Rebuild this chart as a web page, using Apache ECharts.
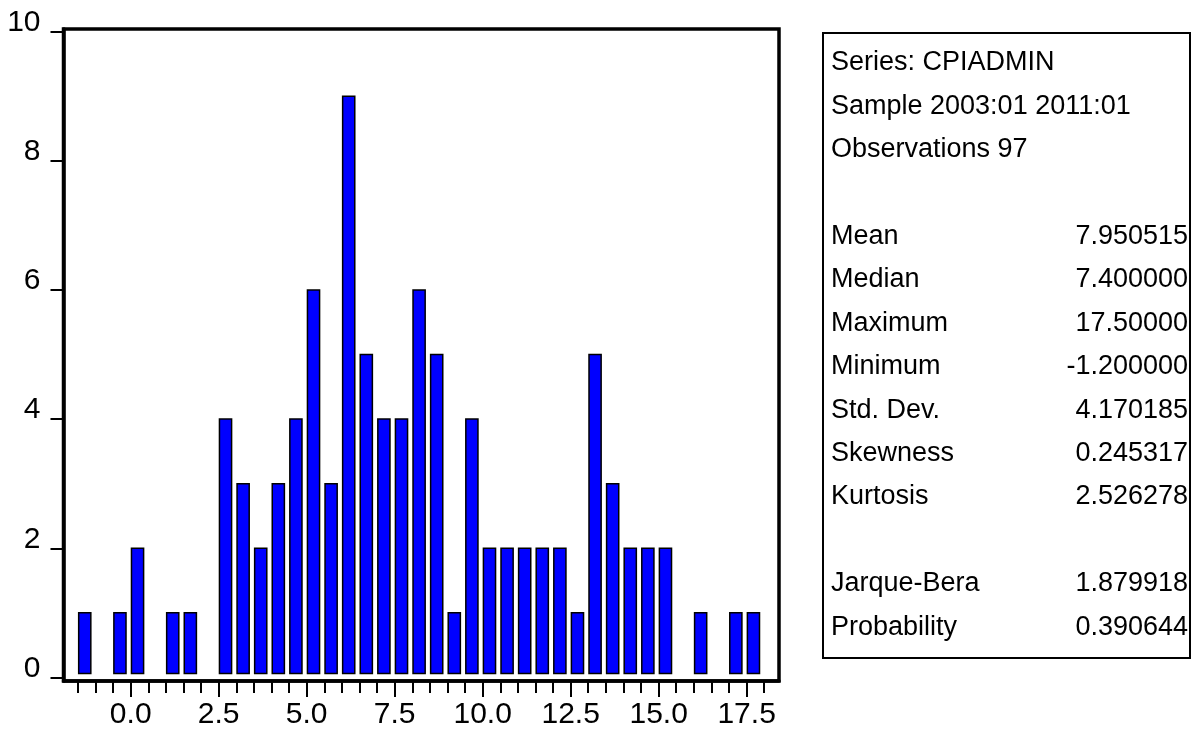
<!DOCTYPE html>
<html><head><meta charset="utf-8">
<script src="https://cdn.jsdelivr.net/npm/echarts@6/dist/echarts.min.js"></script>
<style>html,body{margin:0;padding:0;background:#fff}#c{width:1195px;height:732px}</style>
</head><body><div id="c"></div>
<script>
// ---- data ----
const binWidth = 0.5;
const binStarts = [-1.5,-1.0,-0.5,0.0,0.5,1.0,1.5,2.0,2.5,3.0,3.5,4.0,4.5,5.0,5.5,6.0,6.5,7.0,7.5,8.0,8.5,9.0,9.5,10.0,10.5,11.0,11.5,12.0,12.5,13.0,13.5,14.0,14.5,15.0,15.5,16.0,16.5,17.0,17.5];
const counts    = [1,0,1,2,0,1,1,0,4,3,2,3,4,6,3,9,5,4,4,6,5,1,4,2,2,2,2,2,1,5,3,2,2,2,0,1,0,1,1];
const xMinorTicks = [-1.5,-1.0,-0.5,0.0,0.5,1.0,1.5,2.0,2.5,3.0,3.5,4.0,4.5,5.0,5.5,6.0,6.5,7.0,7.5,8.0,8.5,9.0,9.5,10.0,10.5,11.0,11.5,12.0,12.5,13.0,13.5,14.0,14.5,15.0,15.5,16.0,16.5,17.0,17.5,18.0];
const xTickLabels = [0.0,2.5,5.0,7.5,10.0,12.5,15.0,17.5];
const yTickLabels = [0,2,4,6,8,10];
const statHeader = ['Series: CPIADMIN','Sample 2003:01 2011:01','Observations 97'];
const statNames  = ['Mean','Median','Maximum','Minimum','Std. Dev.','Skewness','Kurtosis','','Jarque-Bera','Probability'];
const statValues = ['7.950515','7.400000','17.50000','-1.200000','4.170185','0.245317','2.526278','','1.879918','0.390644'];

// ---- chart ----
const axisFont = "'Liberation Sans',Arial,sans-serif";
const boxFont = "'Liberation Sans',Arial,sans-serif";
const chart = echarts.init(document.getElementById('c'), null, {renderer:'canvas'});

const data = binStarts.map((s,i)=>[s, counts[i]]);

const graphics = [{
  type:'rect', left:822, top:32, z:10,
  shape:{width:367, height:625},
  style:{fill:'#fff', stroke:'#000', lineWidth:2}
}];
const lineH = 43.4, firstY = 63, textX = 831, valX = 1188;
const lines = statHeader.map(t=>[t,'']).concat([['','']]).concat(statNames.map((n,i)=>[n,statValues[i]]));
lines.forEach((ln,i)=>{
  const y = firstY + lineH*i;
  if (ln[0]) graphics.push({type:'text', x:textX, y:y, z:11, style:{text:ln[0], font:'27px '+boxFont, fill:'#000', textAlign:'left', textVerticalAlign:'middle'}});
  if (ln[1]) graphics.push({type:'text', x:valX, y:y, z:11, style:{text:ln[1], font:'27px '+boxFont, fill:'#000', textAlign:'right', textVerticalAlign:'middle'}});
});

chart.setOption({
  animation:false,
  backgroundColor:'#fff',
  grid:{left:63.5, right:416, top:29, bottom:51, show:true, borderColor:'#000', borderWidth:3.5, backgroundColor:'transparent'},
  xAxis:[{
    type:'value', min:-1.91, max:18.42, position:'bottom',
    axisLine:{show:true, onZero:false, lineStyle:{color:'#000', width:3.5}},
    axisTick:{show:true, customValues:xMinorTicks, length:12, lineStyle:{color:'#000', width:2}},
    axisLabel:{show:false}, splitLine:{show:false}
  },{
    type:'value', min:-1.91, max:18.42, position:'bottom',
    axisLine:{show:false, onZero:false},
    axisTick:{show:true, customValues:xTickLabels, length:16, lineStyle:{color:'#000', width:2}},
    axisLabel:{show:true, customValues:xTickLabels, formatter:v=>v.toFixed(1), fontSize:30, fontFamily:axisFont, color:'#000', margin:19},
    splitLine:{show:false}
  }],
  yAxis:{
    type:'value', min:-0.055, max:10.04,
    axisLine:{show:true, onZero:false, lineStyle:{color:'#000', width:3.5}},
    axisTick:{show:true, customValues:yTickLabels, length:13, lineStyle:{color:'#000', width:2}},
    axisLabel:{show:true, customValues:yTickLabels, fontSize:30, fontFamily:axisFont, color:'#000', margin:23, verticalAlign:'bottom', lineHeight:18},
    splitLine:{show:false}
  },
  series:[{
    type:'custom', xAxisIndex:0, yAxisIndex:0, data:data, clip:false,
    renderItem:function(params, api){
      const x0 = api.value(0), v = api.value(1);
      if (!v) return null;
      const p0 = api.coord([x0, 0]);
      const p1 = api.coord([x0 + binWidth*0.69, v]);
      return {type:'rect', shape:{x:p0[0]+0.75, y:p1[1], width:p1[0]-p0[0], height:(p0[1]-4)-p1[1]},
        style:{fill:'#0000ff', stroke:'#000', lineWidth:1.5}};
    }
  }],
  graphic:graphics
});
</script></body></html>
